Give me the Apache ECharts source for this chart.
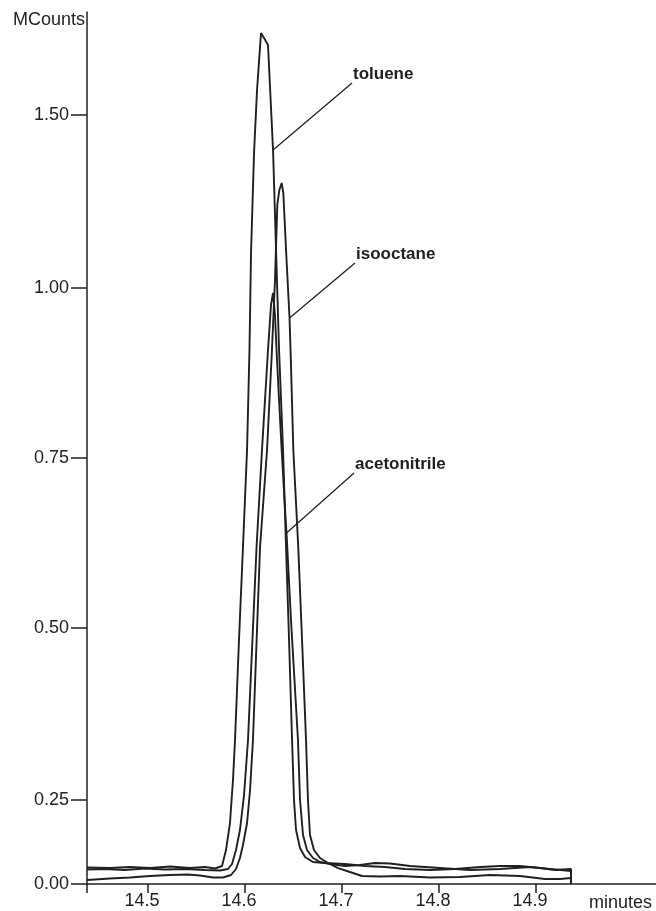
<!DOCTYPE html>
<html>
<head>
<meta charset="utf-8">
<script src="https://cdn.jsdelivr.net/npm/echarts@6/dist/echarts.min.js"></script>
<style>
  html, body { margin: 0; padding: 0; background: #ffffff; }
  #chart { width: 656px; height: 911px; }
</style>
</head>
<body>
<div id="chart"></div>
<script>
// Retention-time window (minutes) and signal axis (MCounts)
const timeTicks = [14.5, 14.6, 14.7, 14.8, 14.9];
const signalTickValues = [0, 0.1409, 0.4295, 0.7148, 1.0, 1.2903];
const signalTickLabels = ['0.00', '0.25', '0.50', '0.75', '1.00', '1.50'];

// Chromatogram traces: [time (min), signal (MCounts)]
const toluene = [
  [14.4371, 0.0277], [14.4608, 0.0268], [14.4814, 0.0285], [14.5021, 0.0268],
  [14.5227, 0.0294], [14.5433, 0.0268], [14.5588, 0.0285], [14.5691, 0.0260],
  [14.5763, 0.0302], [14.5804, 0.0570], [14.5845, 0.1023], [14.5876, 0.1745],
  [14.5897, 0.2416], [14.5938, 0.4094], [14.5979, 0.5654], [14.6021, 0.7282],
  [14.6046, 0.8960], [14.6062, 1.0587], [14.6093, 1.2265], [14.6124, 1.3322],
  [14.6165, 1.4279], [14.6196, 1.4195], [14.6237, 1.4077], [14.6289, 1.2315],
  [14.6320, 1.0638], [14.6351, 0.8960], [14.6392, 0.7282], [14.6423, 0.5654],
  [14.6454, 0.4094], [14.6485, 0.2416], [14.6505, 0.1409], [14.6526, 0.0906],
  [14.6567, 0.0604], [14.6619, 0.0453], [14.6701, 0.0369], [14.6825, 0.0352],
  [14.7031, 0.0336], [14.7237, 0.0302], [14.7443, 0.0285], [14.7649, 0.0252],
  [14.7907, 0.0235], [14.8165, 0.0252], [14.8423, 0.0285], [14.8629, 0.0302],
  [14.8835, 0.0302], [14.9041, 0.0268], [14.9196, 0.0235], [14.9361, 0.0252],
  [14.9361, 0]
];

const isooctane = [
  [14.4371, 0.0067], [14.4608, 0.0092], [14.4814, 0.0109], [14.5021, 0.0134],
  [14.5227, 0.0151], [14.5412, 0.0159], [14.5536, 0.0143], [14.5670, 0.0109],
  [14.5773, 0.0109], [14.5856, 0.0151], [14.5907, 0.0252], [14.5948, 0.0436],
  [14.5979, 0.0654], [14.6021, 0.1023], [14.6052, 0.1577], [14.6082, 0.2416],
  [14.6155, 0.5654], [14.6227, 0.7282], [14.6278, 0.8960], [14.6309, 1.0134],
  [14.6333, 1.1393], [14.6354, 1.1644], [14.6378, 1.1762], [14.6395, 1.1594],
  [14.6423, 1.0638], [14.6459, 0.9497], [14.6474, 0.8708], [14.6498, 0.7282],
  [14.6549, 0.5654], [14.6588, 0.4094], [14.6629, 0.2416], [14.6649, 0.1409],
  [14.6670, 0.0822], [14.6711, 0.0570], [14.6773, 0.0436], [14.6856, 0.0352],
  [14.6959, 0.0268], [14.7082, 0.0201], [14.7206, 0.0134], [14.7392, 0.0126],
  [14.7598, 0.0134], [14.7907, 0.0109], [14.8216, 0.0117], [14.8526, 0.0151],
  [14.8835, 0.0134], [14.9093, 0.0084], [14.9247, 0.0084], [14.9361, 0.0101],
  [14.9361, 0]
];

const acetonitrile = [
  [14.4371, 0.0243], [14.4557, 0.0252], [14.4763, 0.0235], [14.4969, 0.0260],
  [14.5175, 0.0243], [14.5381, 0.0252], [14.5588, 0.0235], [14.5742, 0.0227],
  [14.5825, 0.0252], [14.5866, 0.0336], [14.5907, 0.0570], [14.5948, 0.0906],
  [14.5990, 0.1493], [14.6031, 0.2416], [14.6119, 0.5654], [14.6175, 0.7282],
  [14.6237, 0.8960], [14.6268, 0.9715], [14.6289, 0.9916], [14.6309, 0.9547],
  [14.6325, 0.8960], [14.6351, 0.8121], [14.6378, 0.7282], [14.6407, 0.6443],
  [14.6428, 0.5889], [14.6474, 0.4430], [14.6510, 0.3423], [14.6546, 0.2416],
  [14.6567, 0.1409], [14.6598, 0.0822], [14.6639, 0.0570], [14.6701, 0.0436],
  [14.6773, 0.0369], [14.6876, 0.0336], [14.7031, 0.0302], [14.7186, 0.0319],
  [14.7340, 0.0352], [14.7495, 0.0344], [14.7701, 0.0302], [14.8010, 0.0268],
  [14.8320, 0.0235], [14.8629, 0.0252], [14.8938, 0.0285], [14.9144, 0.0252],
  [14.9361, 0.0218], [14.9361, 0]
];

// Peak annotations: leader starts on the trace point at `from` (time) and ends at `to`
const peakNotes = {
  toluene:      { from: 14.6289, to: [14.7103, 1.3440] },
  isooctane:    { from: 14.6459, to: [14.7134, 1.0419] },
  acetonitrile: { from: 14.6428, to: [14.7124, 0.6896] }
};

const INK = '#202020';
const FONT = '"Liberation Sans", Arial, sans-serif';

function signalLabel(v) {
  const i = signalTickValues.findIndex(t => Math.abs(t - v) < 1e-6);
  return i >= 0 ? signalTickLabels[i] : '';
}

function trace(name, data) {
  const note = peakNotes[name];
  const start = data.find(p => Math.abs(p[0] - note.from) < 1e-6);
  return {
    name: name,
    type: 'line',
    data: data,
    symbol: 'none',
    showSymbol: false,
    smooth: false,
    silent: true,
    animation: false,
    lineStyle: { color: INK, width: 1.9 },
    markLine: {
      silent: true,
      animation: false,
      symbol: ['none', 'none'],
      lineStyle: { color: INK, width: 1.3, type: 'solid' },
      label: { show: false },
      emphasis: { disabled: true },
      data: [[{ coord: start }, { coord: note.to }]]
    },
    markPoint: {
      silent: true,
      animation: false,
      symbol: 'circle',
      symbolSize: 0,
      itemStyle: { color: 'rgba(0,0,0,0)' },
      data: [{
        coord: note.to,
        label: {
          show: true,
          formatter: name,
          position: [1, -9],
          align: 'left',
          verticalAlign: 'middle',
          fontSize: 17,
          fontWeight: 'bold',
          fontFamily: FONT,
          color: INK
        }
      }]
    }
  };
}

const chart = echarts.init(document.getElementById('chart'), null, { renderer: 'canvas' });

chart.setOption({
  animation: false,
  backgroundColor: '#ffffff',
  grid: { left: 87, right: 0, top: 12, bottom: 27, containLabel: false, outerBoundsMode: 'none' },
  xAxis: {
    type: 'value',
    min: 14.4371,
    max: 15.0237,
    name: 'minutes',
    nameLocation: 'end',
    nameGap: -4,
    nameTextStyle: { fontSize: 18, fontFamily: FONT, color: '#222', align: 'right', verticalAlign: 'top', padding: [10, 0, 0, 0] },
    axisLine: { show: true, onZero: false, lineStyle: { color: INK, width: 1.5 } },
    axisTick: { show: true, length: 9, customValues: [14.4371].concat(timeTicks), lineStyle: { color: INK, width: 1.5 } },
    axisLabel: {
      customValues: timeTicks,
      formatter: v => v.toFixed(1),
      fontSize: 18,
      fontFamily: FONT,
      color: '#222',
      margin: 8,
      padding: [0, 12, 0, 0]
    },
    splitLine: { show: false }
  },
  yAxis: {
    type: 'value',
    min: 0,
    max: 1.4631,
    name: 'MCounts',
    nameLocation: 'end',
    nameGap: -8,
    nameTextStyle: { fontSize: 18, fontFamily: FONT, color: '#222', align: 'right', verticalAlign: 'middle', padding: [0, 2, 0, 0] },
    axisLine: { show: true, lineStyle: { color: INK, width: 1.5 } },
    axisTick: { show: true, length: 16, customValues: signalTickValues, lineStyle: { color: INK, width: 1.5 } },
    axisLabel: {
      customValues: signalTickValues,
      formatter: signalLabel,
      fontSize: 18,
      fontFamily: FONT,
      color: '#222',
      margin: 18
    },
    splitLine: { show: false }
  },
  series: [
    trace('toluene', toluene),
    trace('isooctane', isooctane),
    trace('acetonitrile', acetonitrile)
  ]
});
</script>
</body>
</html>
